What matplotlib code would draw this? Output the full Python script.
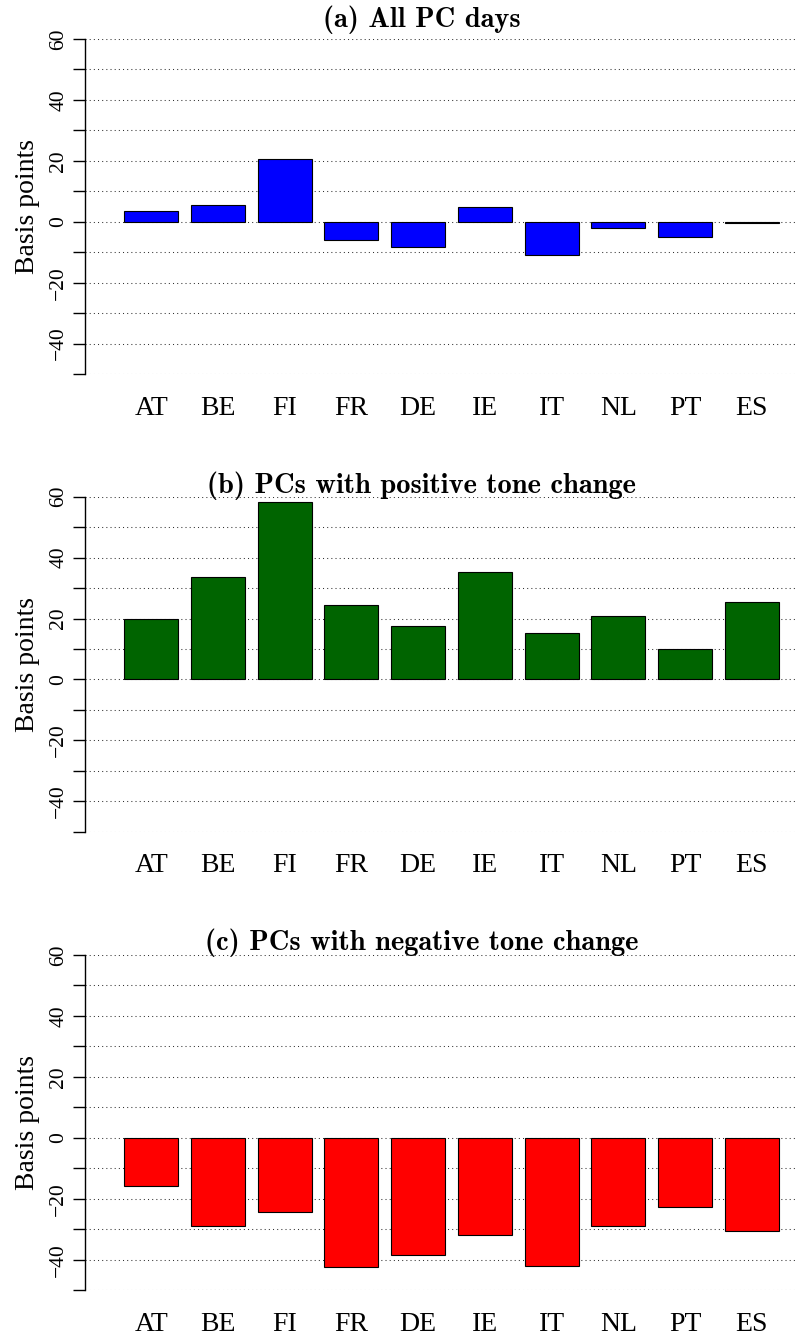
import matplotlib
matplotlib.use("Agg")
import matplotlib.pyplot as plt
import numpy as np

# Change in yields around press conferences, by country (basis points)
countries = ["AT", "BE", "FI", "FR", "DE", "IE", "IT", "NL", "PT", "ES"]
all_pc = [3.6, 5.4, 20.7, -5.9, -8.2, 4.7, -11.0, -2.0, -5.0, -0.3]
pos_tone = [19.9, 33.7, 58.4, 24.6, 17.4, 35.4, 15.4, 20.9, 10.0, 25.3]
neg_tone = [-15.8, -28.8, -24.2, -42.4, -38.5, -31.9, -42.1, -29.0, -22.7, -30.4]

titles = ["(a) All PC days",
          "(b) PCs with positive tone change",
          "(c) PCs with negative tone change"]
colors = ["#0000FF", "#006400", "#FF0000"]

W, H = 795, 1337
fig = plt.figure(figsize=(W / 100, H / 100), dpi=100)

# panel placement in pixels: (top of axis, bottom of axis, title baseline)
panels = [(39, 374, 27.5), (496.7, 831.7, 493.5), (955, 1290.3, 950)]
left_px, right_px = 85, 795

x = np.arange(len(countries))
yticks = np.arange(-50, 61, 10)
ylabels = ["" if t % 20 else str(t).replace("-", "\u2212") for t in yticks]

for (top, bot, tb), vals, title, col in zip(panels, [all_pc, pos_tone, neg_tone], titles, colors):
    ax = fig.add_axes([left_px / W, 1 - bot / H, (right_px - left_px) / W, (bot - top) / H])
    ax.set_axisbelow(True)
    ax.bar(x, vals, width=0.81, color=col, edgecolor="black", linewidth=0.8)

    ax.set_xlim((left_px - 151.2) / 66.74, (right_px - 151.2) / 66.74)
    ax.set_ylim(-50, 60)
    for s in ["top", "right", "bottom"]:
        ax.spines[s].set_visible(False)
    ax.spines["left"].set_linewidth(1.0)

    # dotted horizontal guides every 10 bp
    for t in yticks:
        ax.axhline(t, color="#333333", linewidth=0.75, linestyle=(0, (1, 3)), zorder=0)

    ax.set_yticks(yticks)
    ax.set_yticklabels(ylabels, fontsize=15.5, family="Liberation Serif")
    plt.setp(ax.get_yticklabels(), rotation=90, va="center")
    ax.tick_params(axis="y", length=8.6, width=1.0, pad=3.4, direction="out")

    ax.set_xticks(x)
    ax.set_xticklabels(countries, fontsize=20, family="Liberation Serif")
    ax.tick_params(axis="x", length=0, pad=15.5)

    ax.set_ylabel("Basis points", fontsize=20, family="Liberation Serif")
    ax.yaxis.set_label_coords(-0.0634, 0.5)

    fig.text(421.5 / W, 1 - tb / H, title, ha="center", va="baseline",
             fontsize=20.5, family="cmb10")

fig.savefig("out.png", dpi=100)
